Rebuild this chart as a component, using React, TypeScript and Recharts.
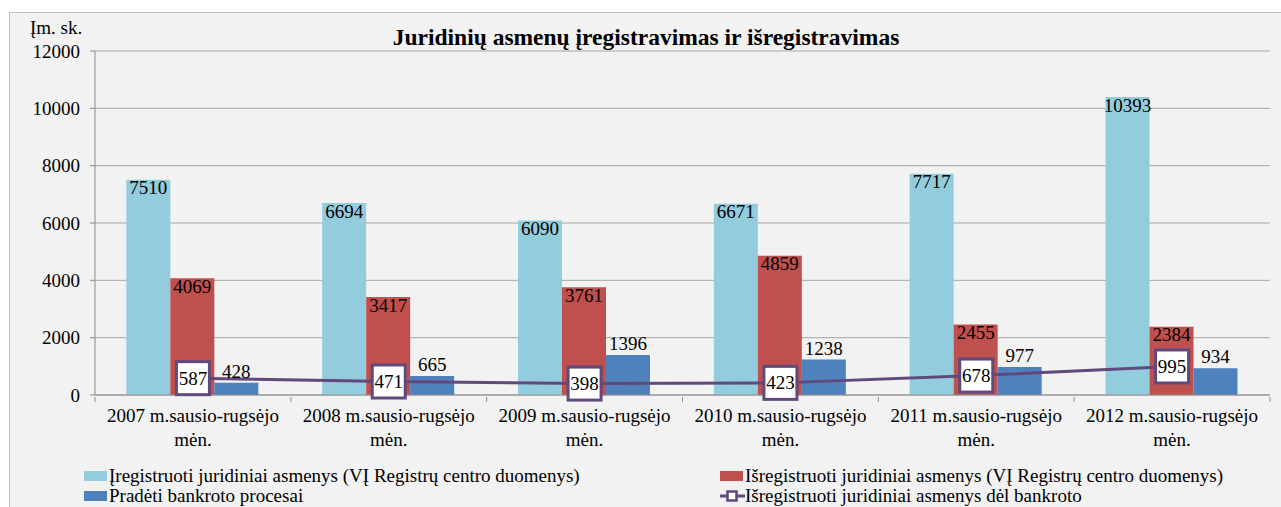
import React from 'react'
import {
  ComposedChart,
  Bar,
  Line,
  XAxis,
  YAxis,
  CartesianGrid,
  LabelList
} from 'recharts'

const years = ['2007', '2008', '2009', '2010', '2011', '2012']
const registered = [7510, 6694, 6090, 6671, 7717, 10393]
const deregistered = [4069, 3417, 3761, 4859, 2455, 2384]
const bankruptcyStarted = [428, 665, 1396, 1238, 977, 934]
const deregBankruptcy = [587, 471, 398, 423, 678, 995]
const yTicks = [0, 2000, 4000, 6000, 8000, 10000, 12000]

const seriesNames = [
  'Įregistruoti juridiniai asmenys (VĮ Registrų centro duomenys)',
  'Išregistruoti juridiniai asmenys (VĮ Registrų centro duomenys)',
  'Pradėti bankroto procesai',
  'Išregistruoti juridiniai asmenys dėl bankroto'
]

const data = years.map((y, i) => ({
  name: `${y} m.sausio-rugsėjo`,
  registered: registered[i],
  deregistered: deregistered[i],
  bankruptcyStarted: bankruptcyStarted[i],
  deregBankruptcy: deregBankruptcy[i]
}))

const FONT = '"Liberation Serif", "Times New Roman", serif'
const FS = 19
const LIGHT_BLUE = '#93CDDD'
const RED = '#C0504D'
const BLUE = '#4F81BD'
const PURPLE = '#604A7B'

const CHART_W = 1271
const CHART_H = 494
const MARGIN = { top: 38, right: 11, bottom: 60, left: 15 }
const Y_W = 70
const bandW = (CHART_W - MARGIN.left - MARGIN.right - Y_W) / years.length

const txt = { fontFamily: FONT, fontSize: FS }

const CategoryTick = (props: any) => {
  const { x, y, payload, index } = props
  return (
    <g>
      <line x1={x - bandW / 2} y1={y - 6} x2={x - bandW / 2} y2={y - 1} stroke="#8c8c8c" />
      {index === years.length - 1 && (
        <line x1={x + bandW / 2} y1={y - 6} x2={x + bandW / 2} y2={y - 1} stroke="#8c8c8c" />
      )}
      <text x={x} y={y + 18.5} textAnchor="middle" style={txt} fill="#000">
        {payload.value}
      </text>
      <text x={x} y={y + 42.5} textAnchor="middle" style={txt} fill="#000">
        mėn.
      </text>
    </g>
  )
}

const ValueTick = (props: any) => {
  const { x, y, payload } = props
  return (
    <text x={x - 2} y={y + 6.5} textAnchor="end" style={txt} fill="#000">
      {payload.value}
    </text>
  )
}

const BoxDot = (props: any) => {
  const { cx, cy, payload } = props
  if (cx == null || cy == null) return null
  return (
    <g key={`dot-${cx}`}>
      <rect x={cx - 16.5} y={cy - 16.5} width={33} height={33} fill="#fff" stroke={PURPLE} strokeWidth={3} />
      <text x={cx} y={cy + 6.5} textAnchor="middle" style={txt} fill="#000">
        {payload.deregBankruptcy}
      </text>
    </g>
  )
}

const Swatch = ({ color }: { color: string }) => (
  <span style={{ display: 'inline-block', width: 23, height: 10, background: color, marginRight: 2 }} />
)

const LineSwatch = () => (
  <svg width={25} height={14} style={{ marginRight: 0 }}>
    <line x1={0} y1={7} x2={25} y2={7} stroke={PURPLE} strokeWidth={3} />
    <rect x={7.5} y={2.5} width={9} height={9} fill="#fff" stroke={PURPLE} strokeWidth={2.5} />
  </svg>
)

export default function App() {
  const legendText: React.CSSProperties = {
    position: 'absolute',
    fontFamily: FONT,
    fontSize: FS,
    lineHeight: '20px',
    whiteSpace: 'nowrap',
    display: 'flex',
    alignItems: 'center'
  }
  return (
    <div
      style={{
        position: 'absolute',
        left: 9,
        top: 12,
        width: 1272,
        height: 495,
        background: '#f2f2f2',
        borderTop: '1px solid #bdbdbd',
        borderLeft: '1px solid #bdbdbd'
      }}
    >
      <div style={{ position: 'absolute', left: 20, top: 4, fontFamily: FONT, fontSize: FS, lineHeight: '22px' }}>
        Įm. sk.
      </div>
      <div
        style={{
          position: 'absolute',
          left: 0,
          width: 1272,
          top: 11,
          textAlign: 'center',
          fontFamily: FONT,
          fontSize: 23.5,
          lineHeight: '27px',
          fontWeight: 'bold'
        }}
      >
        Juridinių asmenų įregistravimas ir išregistravimas
      </div>
      <ComposedChart
        width={CHART_W}
        height={CHART_H}
        data={data}
        margin={MARGIN}
        barCategoryGap="16%"
        barGap={0}
      >
        <CartesianGrid vertical={false} stroke="#a6a6a6" />
        <XAxis
          dataKey="name"
          tick={<CategoryTick />}
          tickLine={false}
          axisLine={{ stroke: '#8c8c8c' }}
          height={52}
          interval={0}
        />
        <YAxis
          domain={[0, 12000]}
          ticks={yTicks}
          width={Y_W}
          tickSize={5}
          tickMargin={8}
          axisLine={{ stroke: '#8c8c8c' }}
          tickLine={{ stroke: '#8c8c8c' }}
          tick={<ValueTick />}
          interval={0}
        />
        <Bar dataKey="registered" fill={LIGHT_BLUE} isAnimationActive={false}>
          <LabelList dataKey="registered" position="insideTop" offset={1} fill="#000" style={txt} />
        </Bar>
        <Bar dataKey="deregistered" fill={RED} isAnimationActive={false}>
          <LabelList dataKey="deregistered" position="insideTop" offset={1} fill="#000" style={txt} />
        </Bar>
        <Bar dataKey="bankruptcyStarted" fill={BLUE} isAnimationActive={false}>
          <LabelList dataKey="bankruptcyStarted" position="top" offset={5} fill="#000" style={txt} />
        </Bar>
        <Line
          dataKey="deregBankruptcy"
          stroke={PURPLE}
          strokeWidth={3}
          dot={BoxDot}
          activeDot={false}
          isAnimationActive={false}
        />
      </ComposedChart>
      <div style={{ ...legendText, left: 74, top: 453 }}>
        <Swatch color={LIGHT_BLUE} />
        {seriesNames[0]}
      </div>
      <div style={{ ...legendText, left: 74, top: 473 }}>
        <Swatch color={BLUE} />
        {seriesNames[2]}
      </div>
      <div style={{ ...legendText, left: 710, top: 453 }}>
        <Swatch color={RED} />
        {seriesNames[1]}
      </div>
      <div style={{ ...legendText, left: 710, top: 473 }}>
        <LineSwatch />
        {seriesNames[3]}
      </div>
    </div>
  )
}
